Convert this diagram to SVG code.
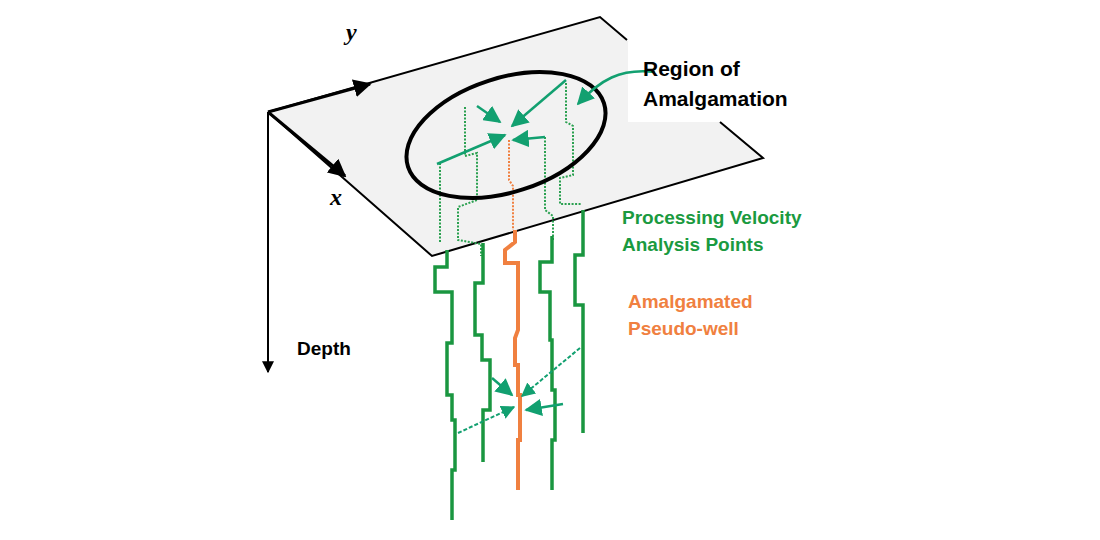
<svg xmlns="http://www.w3.org/2000/svg" width="1100" height="540" viewBox="0 0 1100 540">
<style>
.lbl{font-family:"Liberation Sans",Arial,sans-serif;font-weight:bold}
.ax{font-family:"Liberation Serif","Times New Roman",serif;font-style:italic;font-weight:bold;font-size:24px}
.w{fill:none;stroke:#1a9640;stroke-width:3.5}
.wd{fill:none;stroke:#2aa050;stroke-width:2;stroke-dasharray:2 1.5}
.ar{stroke:#12a070;stroke-width:2.5;fill:none}
.ad{stroke:#12a070;stroke-width:2;fill:none;stroke-dasharray:4 2}
</style>
<defs>
<marker id="ga" viewBox="0 0 10 10" refX="9" refY="5" markerWidth="7" markerHeight="7" orient="auto"><path d="M0,0L10,5L0,10z" fill="#12a070"/></marker>
<marker id="ka" viewBox="0 0 10 10" refX="9" refY="5" markerWidth="6" markerHeight="6" orient="auto"><path d="M0,0L10,5L0,10z" fill="#000"/></marker>
</defs>
<rect width="1100" height="540" fill="#fff"/>
<g id="plane">
<polygon points="268,112 600,17 763,158 432,256" fill="#f2f2f2" stroke="none"/>
<rect x="628" y="42" width="190" height="80" fill="#fff"/>
<path d="M268,112L600,17L627,40M720,122L763,158L432,256L268,112" fill="none" stroke="#000" stroke-width="2"/>
</g>
<g id="axes">
<line x1="268" y1="112" x2="370" y2="84" stroke="#000" stroke-width="3" marker-end="url(#ka)"/>
<line x1="268" y1="112" x2="345" y2="176" stroke="#000" stroke-width="3" marker-end="url(#ka)"/>
<line x1="268" y1="112" x2="268" y2="372" stroke="#000" stroke-width="2" marker-end="url(#ka)"/>
<text class="ax" x="346" y="40">y</text>
<text class="ax" x="330" y="205">x</text>
<text class="lbl" x="297" y="355" font-size="19">Depth</text>
</g>
<g id="wells-above">
<path class="wd" d="M440,163V243"/>
<path class="wd" d="M465,107V156L477,153V200L458,207V240L481,244V256"/>
<path class="wd" d="M545,137V210L553,216V240"/>
<path class="wd" d="M566,83V122L573,126V175L560,178V204L582,204"/>
<path d="M509,140V180L513,186V230" fill="none" stroke="#f08040" stroke-width="2" stroke-dasharray="2 1.5"/>
</g>
<g id="ellipse">
<ellipse cx="506" cy="135" rx="103" ry="57" transform="rotate(-18 506 135)" fill="none" stroke="#000" stroke-width="4"/>
</g>
<g id="wells">
<path class="w" d="M447,250V267H435V292H452V343H447V395H452V420H455V470H452V520"/>
<path class="w" d="M483,243V283H475V335H482V360H490V410H483V462"/>
<path class="w" d="M552,236V262H540V292H550V340H552V390H555V440H552V490"/>
<path class="w" d="M583,210V255H575V305H583V380H583V433"/>
<path d="M515,230V242L505,250V263H518V330L515,338V365H518V395H520V440H518V490" fill="none" stroke="#f08040" stroke-width="4"/>
</g>
<g id="connectors">
<line class="ar" x1="566" y1="80" x2="512" y2="126" marker-end="url(#ga)"/>
<line class="ar" x1="477" y1="106" x2="500" y2="122" marker-end="url(#ga)"/>
<line class="ar" x1="437" y1="164" x2="505" y2="135" marker-end="url(#ga)"/>
<line class="ar" x1="545" y1="137" x2="513" y2="140" marker-end="url(#ga)"/>
<path class="ar" d="M655,72C620,68 600,80 578,104" marker-end="url(#ga)"/>
<line class="ad" x1="580" y1="348" x2="522" y2="396" marker-end="url(#ga)"/>
<line class="ar" x1="492" y1="378" x2="512" y2="395" marker-end="url(#ga)"/>
<line class="ar" x1="563" y1="404" x2="526" y2="410" marker-end="url(#ga)"/>
<line class="ad" x1="458" y1="433" x2="514" y2="407" marker-end="url(#ga)"/>
</g>
<g id="labels">
<text class="lbl" x="643" y="76" font-size="21">Region of</text>
<text class="lbl" x="643" y="106" font-size="21">Amalgamation</text>
<text class="lbl" x="622" y="224" font-size="19" fill="#1a9a40">Processing Velocity</text>
<text class="lbl" x="622" y="251" font-size="19" fill="#1a9a40">Analysis Points</text>
<text class="lbl" x="628" y="308" font-size="19" fill="#f08040">Amalgamated</text>
<text class="lbl" x="628" y="335" font-size="19" fill="#f08040">Pseudo-well</text>
</g>
</svg>
